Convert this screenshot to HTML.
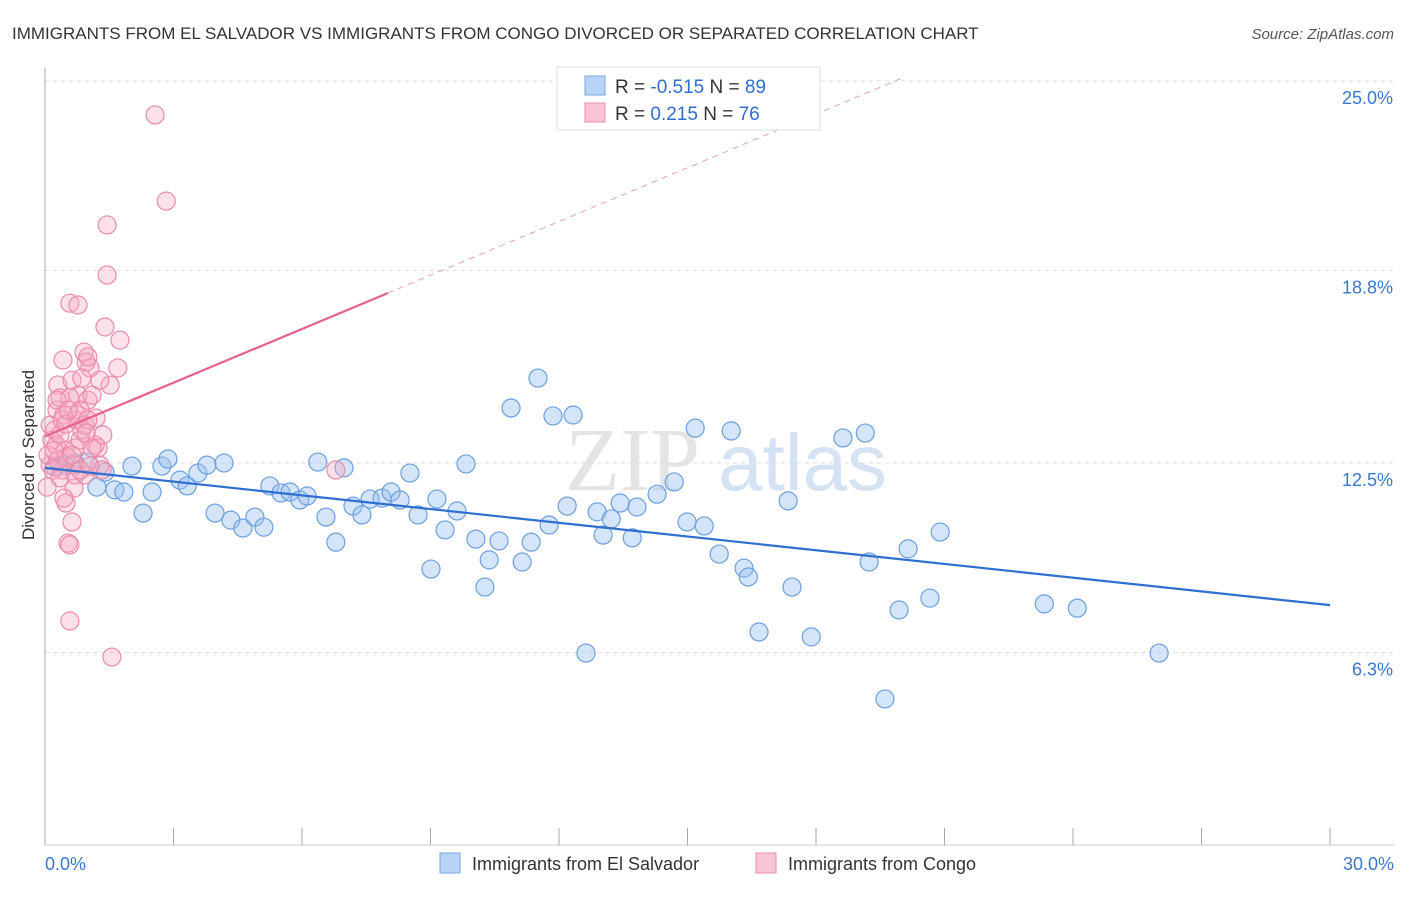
<!DOCTYPE html>
<html><head><meta charset="utf-8"><style>
body{margin:0;background:#fff;font-family:"Liberation Sans",sans-serif;}
</style></head><body>
<svg width="1406" height="892" xmlns="http://www.w3.org/2000/svg" id="svg">
<text x="12" y="39" font-size="17" fill="#333">IMMIGRANTS FROM EL SALVADOR VS IMMIGRANTS FROM CONGO DIVORCED OR SEPARATED CORRELATION CHART</text>
<text x="1394" y="39" font-size="15" fill="#555" font-style="italic" text-anchor="end">Source: ZipAtlas.com</text>
<text x="700" y="490" font-size="90" fill="#e4e4e4" font-family="Liberation Serif" text-anchor="end">ZIP</text>
<text x="718" y="490" font-size="80" fill="#d4e2f4">atlas</text>
<text x="34" y="455" font-size="17" fill="#333" text-anchor="middle" transform="rotate(-90 34 455)">Divorced or Separated</text>
<g id="grid"></g><g id="marks"></g><g id="lines"></g>
<g>
<rect x="557" y="67" width="263" height="63" fill="#fff" stroke="#ddd"/>
<rect x="585" y="76" width="20" height="19" fill="#b8d3f5" stroke="#7aa7e0"/>
<rect x="585" y="103" width="20" height="19" fill="#f9c4d3" stroke="#ec8fab"/>
<text x="615" y="93" font-size="19" fill="#333">R = <tspan fill="#2f6fd0">-0.515</tspan>   N = <tspan fill="#2f6fd0">89</tspan></text>
<text x="615" y="120" font-size="19" fill="#333">R = <tspan fill="#2f6fd0"> 0.215</tspan>   N = <tspan fill="#2f6fd0">76</tspan></text>
</g>
<g>
<rect x="440" y="853" width="20" height="20" fill="#b8d3f5" stroke="#7aa7e0"/>
<text x="472" y="870" font-size="18" fill="#333">Immigrants from El Salvador</text>
<rect x="756" y="853" width="20" height="20" fill="#f9c4d3" stroke="#ec8fab"/>
<text x="788" y="870" font-size="18" fill="#333">Immigrants from Congo</text>
</g>
</svg>
<script>
const yTicks=[25.0,18.8,12.5,6.3];
const yTickLabels=["25.0%","18.8%","12.5%","6.3%"];
const xTickLabels=["0.0%","30.0%"];
const blueX=[0.23,0.47,0.70,1.00,1.21,1.40,1.63,1.84,2.03,2.29,2.50,2.73,2.87,3.15,3.32,3.57,3.78,3.97,4.18,4.34,4.62,4.90,5.11,5.25,5.51,5.72,5.95,6.12,6.37,6.56,6.79,6.98,7.19,7.40,7.59,7.87,8.08,8.29,8.52,8.71,9.01,9.15,9.34,9.62,9.83,10.06,10.37,10.27,10.60,10.88,11.14,11.35,11.51,11.77,11.86,12.19,12.33,12.63,12.89,13.03,13.22,13.43,13.71,13.82,14.29,14.69,14.99,15.18,15.39,15.74,16.02,16.32,16.42,16.67,17.35,17.44,17.89,18.63,19.15,19.24,19.61,19.94,20.15,20.66,20.90,23.33,24.10,26.01];
const blueY=[12.37,12.43,12.50,12.53,11.71,12.20,11.62,11.55,12.40,10.86,11.55,12.40,12.63,11.94,11.75,12.17,12.43,10.86,12.50,10.63,10.37,10.73,10.40,11.75,11.52,11.55,11.29,11.42,12.53,10.73,9.91,12.34,11.09,10.80,11.32,11.35,11.55,11.29,12.17,10.80,9.03,11.32,10.31,10.93,12.47,10.01,9.33,8.44,9.95,14.30,9.26,9.91,15.28,10.47,14.04,11.09,14.07,6.28,10.90,10.14,10.67,11.19,10.05,11.06,11.48,11.88,10.57,13.64,10.44,9.52,13.55,9.06,8.77,6.97,11.26,8.44,6.81,13.32,13.48,9.26,4.78,7.69,9.69,8.08,10.24,7.89,7.75,6.28];
const pinkX=[0.05,0.12,0.16,0.23,0.28,0.30,0.35,0.40,0.42,0.44,0.49,0.54,0.58,0.58,0.63,0.68,0.70,0.72,0.77,0.77,0.82,0.86,0.91,0.93,0.96,1.00,1.05,1.10,1.17,1.24,1.28,1.35,1.40,1.45,1.52,1.56,1.70,1.75,1.45,2.57,2.83,6.79,0.07,0.12,0.19,0.26,0.35,0.40,0.47,0.51,0.58,0.63,0.70,0.75,0.82,0.86,0.93,1.00,1.10,1.19,1.33,0.30,0.35,0.44,0.63,0.70,0.82,1.00,1.05,1.28,0.21,0.28,0.49,0.58,0.96,0.54];
const pinkY=[11.71,12.43,13.25,13.58,14.23,15.05,14.63,12.27,15.87,14.07,11.19,9.88,17.73,7.33,10.57,11.68,12.99,13.91,17.67,14.72,13.25,13.58,16.13,12.11,15.80,14.56,15.61,14.72,13.09,12.99,12.43,13.42,16.95,18.65,15.05,6.15,15.61,16.52,20.29,23.89,21.07,12.27,12.76,13.74,12.27,13.09,13.42,13.91,12.92,12.70,14.63,15.21,12.43,14.07,14.23,15.28,13.74,15.97,12.99,13.97,12.27,12.60,12.01,11.35,12.76,12.11,12.27,13.91,12.40,15.21,12.92,14.56,13.77,9.82,13.48,14.23];
const blueTrend=[12.34,-0.1497]; // intercept, slope
const pinkTrend=[13.37,0.586];
const NS="http://www.w3.org/2000/svg";
const X=v=>45+v/30*1285, Y=v=>845-v*30.56;
function mk(t,a,p){const e=document.createElementNS(NS,t);for(const k in a)e.setAttribute(k,a[k]);document.getElementById(p).appendChild(e);return e;}
yTicks.forEach((t,i)=>{
 const l=mk('line',{x1:45,x2:1394,y1:Y(t),y2:Y(t),stroke:'#ddd','stroke-dasharray':'4 4'},'grid');
 
 
 const tx=mk('text',{x:1393,y:Y(t)+23,'font-size':18,fill:'#3a78d0','text-anchor':'end'},'grid');
 tx.textContent=yTickLabels[i];
 
 
});
const ax=mk('line',{x1:45,x2:45,y1:68,y2:845,stroke:'#aaa'},'grid');


const bx=mk('line',{x1:45,x2:1394,y1:845,y2:845,stroke:'#ccc'},'grid');


for(let i=0;i<=10;i++){const t=mk('line',{x1:X(i*3),x2:X(i*3),y1:828,y2:845,stroke:'#aaa'},'grid');
 
 }
[[0,45,'start'],[30,1394,'end']].forEach((d,i)=>{const t=mk('text',{x:d[1],y:870,'font-size':18,fill:'#3a78d0','text-anchor':d[2]},'grid');t.textContent=xTickLabels[i];
 
 });
blueX.forEach((v,i)=>{const c=mk('circle',{cx:X(v),cy:Y(blueY[i]),r:9,fill:'rgba(150,190,240,0.4)',stroke:'#6b9fe2','stroke-width':1.2},'marks');
 
 });
pinkX.forEach((v,i)=>{const c=mk('circle',{cx:X(v),cy:Y(pinkY[i]),r:9,fill:'rgba(247,170,195,0.35)',stroke:'#ec8aa8','stroke-width':1.2},'marks');
 
 });
const bl=mk('line',{x1:X(0),y1:Y(blueTrend[0]),x2:X(30),y2:Y(blueTrend[0]+30*blueTrend[1]),stroke:'#2f6fd0','stroke-width':2.2},'lines');


const p1=mk('line',{x1:X(0),y1:Y(pinkTrend[0]),x2:X(8),y2:Y(pinkTrend[0]+8*pinkTrend[1]),stroke:'#e8608c','stroke-width':2.2},'lines');


const xe=(25.1-pinkTrend[0])/pinkTrend[1];
const p2=mk('line',{x1:X(8),y1:Y(pinkTrend[0]+8*pinkTrend[1]),x2:X(xe),y2:Y(25.1),stroke:'#e8a0b6','stroke-width':1,'stroke-dasharray':'6 5'},'lines');


</script>
</body></html>
